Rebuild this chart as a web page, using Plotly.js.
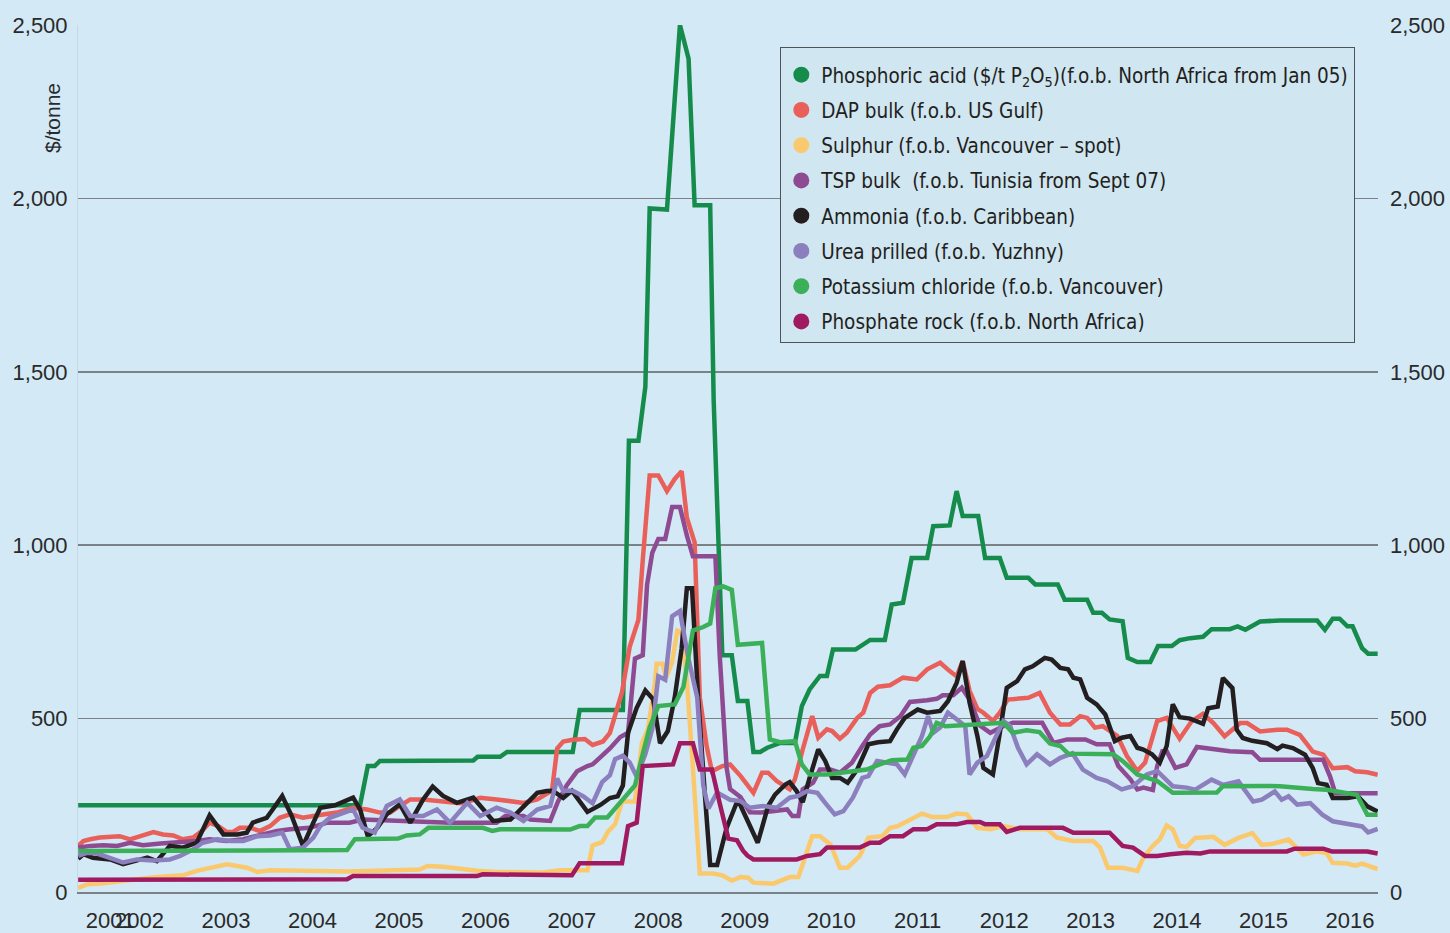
<!DOCTYPE html>
<html>
<head>
<meta charset="utf-8">
<script src="https://cdn.plot.ly/plotly-3.0.1.min.js"></script>
<style>
  html, body { margin: 0; padding: 0; background: #d3e9f6; }
  #chart { width: 1450px; height: 933px; }
</style>
</head>
<body>
<div id="chart"></div>
<script>
// ---------- DATA (x = decimal year, y = $/tonne) ----------
const seriesNames = [
  'Phosphoric acid ($/t P<sub>2</sub>O<sub>5</sub>)(f.o.b. North Africa from Jan 05)',
  'DAP bulk (f.o.b. US Gulf)',
  'Sulphur (f.o.b. Vancouver \u2013 spot)',
  'TSP bulk  (f.o.b. Tunisia from Sept 07)',
  'Ammonia (f.o.b. Caribbean)',
  'Urea prilled (f.o.b. Yuzhny)',
  'Potassium chloride (f.o.b. Vancouver)',
  'Phosphate rock (f.o.b. North Africa)'
];
const seriesColors = ['#168c4c', '#e9605b', '#fbc96d', '#8e4b91', '#231f20', '#8b7fbd', '#3bb058', '#a01a62'];

const phosphoricAcid = [[2001.79,250],[2005.05,250],[2005.14,363],[2005.22,363],[2005.28,378],[2006.36,379],[2006.41,390],[2006.67,390],[2006.75,404],[2007.51,404],[2007.59,525],[2008.09,525],[2008.16,1301],[2008.27,1301],[2008.35,1457],[2008.40,1971],[2008.60,1968],[2008.75,2500],[2008.85,2403],[2008.92,1980],[2009.10,1980],[2009.14,1420],[2009.24,683],[2009.35,683],[2009.42,551],[2009.53,551],[2009.60,404],[2009.68,404],[2009.76,416],[2009.91,430],[2010.08,430],[2010.16,536],[2010.25,584],[2010.37,623],[2010.45,623],[2010.52,699],[2010.78,699],[2010.95,727],[2011.12,727],[2011.20,829],[2011.33,834],[2011.43,963],[2011.61,963],[2011.68,1055],[2011.87,1057],[2011.95,1156],[2012.02,1084],[2012.20,1084],[2012.28,963],[2012.45,963],[2012.53,906],[2012.78,906],[2012.86,887],[2013.12,887],[2013.20,843],[2013.46,843],[2013.53,805],[2013.63,805],[2013.72,786],[2013.87,781],[2013.93,675],[2014.04,663],[2014.19,663],[2014.28,709],[2014.44,709],[2014.53,726],[2014.65,732],[2014.80,736],[2014.90,758],[2015.11,758],[2015.20,766],[2015.29,756],[2015.46,780],[2015.69,783],[2016.12,783],[2016.21,756],[2016.30,788],[2016.38,788],[2016.47,766],[2016.53,766],[2016.64,703],[2016.71,687],[2016.82,687]];

const dapBulk = [[2001.79,133],[2001.85,147],[2001.93,152],[2002.04,157],[2002.27,161],[2002.39,152],[2002.51,161],[2002.66,173],[2002.77,166],[2002.89,163],[2003.00,152],[2003.12,157],[2003.22,176],[2003.31,200],[2003.41,190],[2003.51,173],[2003.58,173],[2003.66,185],[2003.78,185],[2003.89,176],[2004.01,190],[2004.12,214],[2004.24,224],[2004.39,214],[2004.51,219],[2004.62,224],[2004.78,229],[2004.97,243],[2005.13,238],[2005.28,229],[2005.40,229],[2005.51,248],[2005.63,267],[2005.78,267],[2005.94,262],[2006.09,260],[2006.21,256],[2006.32,262],[2006.44,272],[2006.63,267],[2006.79,262],[2006.94,257],[2007.10,267],[2007.25,286],[2007.27,292],[2007.33,414],[2007.40,434],[2007.51,439],[2007.65,441],[2007.74,424],[2007.86,434],[2007.94,459],[2008.08,576],[2008.17,708],[2008.27,785],[2008.32,957],[2008.40,1201],[2008.50,1201],[2008.60,1156],[2008.69,1191],[2008.77,1213],[2008.83,1079],[2008.92,1008],[2008.98,561],[2009.06,419],[2009.12,348],[2009.24,363],[2009.33,368],[2009.45,335],[2009.60,286],[2009.70,344],[2009.77,344],[2009.87,320],[2010.02,296],[2010.08,325],[2010.17,411],[2010.28,507],[2010.35,445],[2010.45,469],[2010.51,464],[2010.60,442],[2010.68,459],[2010.80,502],[2010.87,517],[2010.95,574],[2011.04,592],[2011.18,596],[2011.33,618],[2011.49,613],[2011.61,642],[2011.76,661],[2011.87,637],[2011.95,622],[2012.02,666],[2012.10,580],[2012.19,528],[2012.26,517],[2012.37,493],[2012.45,517],[2012.54,555],[2012.78,560],[2012.91,574],[2013.03,517],[2013.15,483],[2013.26,483],[2013.38,507],[2013.46,502],[2013.55,474],[2013.64,478],[2013.81,450],[2013.92,392],[2014.04,349],[2014.13,373],[2014.27,493],[2014.38,502],[2014.53,442],[2014.67,493],[2014.80,514],[2014.92,487],[2015.05,449],[2015.23,487],[2015.31,487],[2015.46,463],[2015.66,468],[2015.77,468],[2015.92,453],[2016.00,429],[2016.07,405],[2016.19,396],[2016.30,357],[2016.47,360],[2016.56,348],[2016.70,345],[2016.82,338]];

const sulphur = [[2001.79,12],[2001.89,22],[2002.08,25],[2002.27,32],[2002.47,37],[2002.70,43],[2002.85,46],[2003.00,48],[2003.16,61],[2003.31,70],[2003.51,80],[2003.63,75],[2003.74,70],[2003.86,58],[2004.01,63],[2004.93,59],[2005.74,65],[2005.83,75],[2006.01,73],[2006.21,67],[2006.40,61],[2006.63,58],[2007.17,56],[2007.36,63],[2007.68,63],[2007.74,134],[2007.85,144],[2007.92,175],[2008.00,195],[2008.08,261],[2008.23,261],[2008.31,429],[2008.38,470],[2008.46,602],[2008.48,658],[2008.55,658],[2008.59,617],[2008.66,663],[2008.72,754],[2008.77,749],[2008.83,612],[2008.90,358],[2008.98,53],[2009.13,53],[2009.24,48],[2009.35,33],[2009.45,43],[2009.54,41],[2009.60,27],[2009.83,24],[2010.02,43],[2010.12,43],[2010.20,104],[2010.28,161],[2010.37,161],[2010.49,137],[2010.60,70],[2010.69,70],[2010.83,104],[2010.93,157],[2011.09,161],[2011.18,185],[2011.27,190],[2011.41,209],[2011.55,226],[2011.67,216],[2011.84,216],[2011.95,226],[2012.07,224],[2012.19,185],[2012.34,181],[2012.49,190],[2012.68,181],[2013.00,181],[2013.11,157],[2013.30,147],[2013.53,147],[2013.61,128],[2013.70,70],[2013.87,70],[2014.04,61],[2014.11,99],[2014.22,133],[2014.30,152],[2014.38,192],[2014.45,181],[2014.53,133],[2014.61,130],[2014.71,156],[2014.92,159],[2015.05,136],[2015.21,156],[2015.37,170],[2015.48,136],[2015.61,139],[2015.79,151],[2015.96,108],[2016.12,117],[2016.23,112],[2016.30,84],[2016.47,82],[2016.56,76],[2016.64,82],[2016.82,66]];

const tspBulk = [[2001.79,128],[2001.93,133],[2002.08,135],[2002.24,133],[2002.39,142],[2002.54,135],[2002.74,140],[2002.93,142],[2003.16,147],[2003.31,152],[2003.51,147],[2003.70,152],[2003.86,161],[2004.09,176],[2004.24,181],[2004.47,185],[2004.67,200],[2004.93,200],[2005.08,209],[2006.09,200],[2006.63,200],[2006.73,219],[2006.94,219],[2007.02,209],[2007.25,205],[2007.34,261],[2007.44,307],[2007.56,348],[2007.68,363],[2007.74,368],[2007.85,393],[2007.94,414],[2008.06,447],[2008.15,459],[2008.23,673],[2008.32,683],[2008.37,886],[2008.43,978],[2008.50,1018],[2008.58,1018],[2008.66,1110],[2008.75,1110],[2008.83,1028],[2008.90,968],[2009.16,968],[2009.21,683],[2009.29,358],[2009.33,297],[2009.45,274],[2009.56,230],[2009.68,229],[2009.83,233],[2009.99,238],[2010.05,219],[2010.12,219],[2010.17,296],[2010.29,315],[2010.37,353],[2010.49,353],[2010.60,344],[2010.74,373],[2010.86,421],[2010.95,454],[2011.06,478],[2011.18,483],[2011.30,507],[2011.41,548],[2011.61,553],[2011.72,557],[2011.79,567],[2011.91,567],[2012.01,589],[2012.10,555],[2012.22,480],[2012.34,459],[2012.49,478],[2012.60,488],[2012.94,488],[2013.07,430],[2013.23,440],[2013.44,440],[2013.57,426],[2013.72,426],[2013.82,363],[2013.96,325],[2014.04,296],[2014.11,301],[2014.22,294],[2014.27,363],[2014.33,406],[2014.38,406],[2014.48,358],[2014.61,368],[2014.73,418],[2014.92,412],[2015.11,406],[2015.37,403],[2015.46,381],[2016.19,381],[2016.27,333],[2016.33,285],[2016.82,285]];

const ammonia = [[2001.79,96],[2001.85,109],[2001.96,99],[2002.16,94],[2002.31,80],[2002.47,89],[2002.59,99],[2002.70,89],[2002.85,133],[2003.00,128],[2003.16,142],[2003.31,221],[2003.47,166],[2003.63,166],[2003.74,171],[2003.81,200],[2003.97,214],[2004.04,238],[2004.15,277],[2004.26,219],[2004.39,133],[2004.51,200],[2004.59,243],[2004.76,250],[2004.97,272],[2005.05,238],[2005.14,161],[2005.25,185],[2005.36,224],[2005.51,253],[2005.63,200],[2005.78,267],[2005.89,304],[2006.01,277],[2006.17,257],[2006.36,272],[2006.47,238],[2006.59,205],[2006.79,209],[2006.94,248],[2007.10,286],[2007.21,291],[2007.28,292],[2007.40,271],[2007.50,292],[2007.68,231],[2007.83,251],[2007.94,271],[2008.03,276],[2008.09,307],[2008.15,459],[2008.25,531],[2008.35,581],[2008.44,556],[2008.52,429],[2008.61,464],[2008.69,561],[2008.77,703],[2008.83,876],[2008.89,876],[2008.96,561],[2009.04,276],[2009.10,78],[2009.18,78],[2009.29,185],[2009.42,266],[2009.54,200],[2009.65,142],[2009.77,248],[2009.85,281],[2009.97,310],[2010.02,317],[2010.10,291],[2010.17,259],[2010.25,329],[2010.35,411],[2010.43,378],[2010.51,329],[2010.60,329],[2010.69,315],[2010.80,353],[2010.93,426],[2011.04,432],[2011.18,435],[2011.26,469],[2011.35,502],[2011.50,526],[2011.61,517],[2011.76,522],[2011.85,550],[2011.95,603],[2012.02,666],[2012.10,546],[2012.19,450],[2012.26,358],[2012.37,339],[2012.45,459],[2012.53,589],[2012.65,608],[2012.74,642],[2012.83,651],[2012.97,675],[2013.05,670],[2013.15,646],[2013.24,642],[2013.30,618],[2013.38,613],[2013.46,560],[2013.57,541],[2013.67,512],[2013.78,435],[2013.86,445],[2013.96,450],[2014.04,416],[2014.11,411],[2014.21,397],[2014.30,373],[2014.38,421],[2014.45,541],[2014.53,504],[2014.65,500],[2014.80,485],[2014.86,530],[2014.97,535],[2015.03,617],[2015.14,588],[2015.19,468],[2015.26,444],[2015.37,436],[2015.54,429],[2015.66,412],[2015.72,422],[2015.84,415],[2015.98,396],[2016.07,357],[2016.13,314],[2016.23,309],[2016.30,271],[2016.47,271],[2016.59,276],[2016.70,247],[2016.82,232]];

const ureaPrilled = [[2001.79,104],[2001.89,113],[2002.01,111],[2002.16,99],[2002.31,85],[2002.47,94],[2002.66,91],[2002.85,94],[2002.97,104],[2003.12,123],[2003.23,142],[2003.40,152],[2003.55,147],[2003.70,147],[2003.86,161],[2004.01,163],[2004.15,171],[2004.24,123],[2004.39,128],[2004.51,157],[2004.59,190],[2004.70,214],[2004.85,229],[2004.97,238],[2005.08,185],[2005.22,171],[2005.36,248],[2005.51,267],[2005.63,219],[2005.78,219],[2005.94,238],[2006.09,200],[2006.29,257],[2006.44,219],[2006.63,243],[2006.79,229],[2006.94,205],[2007.10,238],[2007.25,248],[2007.33,327],[2007.40,292],[2007.51,292],[2007.63,276],[2007.74,256],[2007.85,317],[2007.94,337],[2008.00,383],[2008.09,393],[2008.17,373],[2008.25,332],[2008.35,398],[2008.43,470],[2008.50,622],[2008.58,612],[2008.66,795],[2008.75,810],[2008.84,683],[2008.95,561],[2009.02,307],[2009.08,241],[2009.18,287],[2009.33,266],[2009.45,262],[2009.56,243],[2009.71,248],[2009.87,243],[2010.02,272],[2010.12,277],[2010.22,291],[2010.34,286],[2010.43,257],[2010.54,224],[2010.64,233],[2010.75,272],[2010.86,329],[2010.93,334],[2011.03,378],[2011.16,373],[2011.26,368],[2011.35,339],[2011.45,392],[2011.55,450],[2011.62,507],[2011.68,459],[2011.76,474],[2011.85,517],[2011.95,498],[2012.05,478],[2012.10,339],[2012.19,373],[2012.30,392],[2012.39,440],[2012.49,493],[2012.57,478],[2012.66,416],[2012.76,368],[2012.88,397],[2013.03,368],[2013.15,387],[2013.29,400],[2013.41,353],[2013.57,329],[2013.69,320],[2013.86,296],[2013.99,305],[2014.15,339],[2014.27,349],[2014.45,305],[2014.61,301],[2014.71,295],[2014.90,324],[2015.03,309],[2015.21,319],[2015.38,261],[2015.48,266],[2015.63,290],[2015.71,266],[2015.79,276],[2015.89,252],[2016.04,256],[2016.18,223],[2016.30,204],[2016.42,199],[2016.53,196],[2016.64,189],[2016.71,172],[2016.82,182]];

const potassiumChloride = [[2001.79,118],[2003.93,118],[2004.90,121],[2004.99,152],[2005.25,154],[2005.49,154],[2005.59,163],[2005.74,166],[2005.84,185],[2006.47,185],[2006.58,176],[2006.67,181],[2007.48,180],[2007.59,190],[2007.68,190],[2007.77,215],[2007.91,215],[2008.00,241],[2008.12,271],[2008.23,307],[2008.32,398],[2008.40,475],[2008.50,536],[2008.60,539],[2008.69,541],[2008.79,591],[2008.90,754],[2009.02,764],[2009.10,774],[2009.16,876],[2009.25,881],[2009.35,871],[2009.42,713],[2009.70,718],[2009.79,440],[2009.91,432],[2010.08,435],[2010.16,368],[2010.25,339],[2010.45,339],[2010.60,344],[2010.80,349],[2010.91,353],[2011.06,368],[2011.20,380],[2011.38,382],[2011.45,416],[2011.55,421],[2011.64,448],[2011.72,488],[2011.82,478],[2012.49,488],[2012.60,459],[2012.76,466],[2012.91,461],[2013.03,428],[2013.15,421],[2013.24,399],[2013.76,397],[2013.87,378],[2014.04,339],[2014.27,320],[2014.45,286],[2014.96,287],[2015.03,305],[2015.49,306],[2015.69,305],[2016.07,297],[2016.23,295],[2016.58,280],[2016.70,223],[2016.82,223]];

const phosphateRock = [[2001.79,35],[2004.90,37],[2004.97,46],[2006.40,46],[2006.47,51],[2007.50,48],[2007.59,83],[2008.08,83],[2008.15,190],[2008.25,200],[2008.32,363],[2008.67,368],[2008.75,429],[2008.90,429],[2008.98,353],[2009.12,353],[2009.21,256],[2009.31,154],[2009.41,149],[2009.48,119],[2009.53,105],[2009.60,94],[2010.10,94],[2010.22,104],[2010.37,109],[2010.45,128],[2010.83,128],[2010.95,142],[2011.06,142],[2011.18,161],[2011.33,161],[2011.45,181],[2011.61,181],[2011.72,195],[2011.95,195],[2012.07,202],[2012.22,202],[2012.28,195],[2012.45,195],[2012.53,173],[2012.68,185],[2013.18,185],[2013.30,171],[2013.72,171],[2013.87,133],[2013.99,128],[2014.13,104],[2014.27,104],[2014.42,109],[2014.61,113],[2014.77,111],[2014.88,117],[2015.77,117],[2015.86,125],[2016.19,125],[2016.29,117],[2016.70,117],[2016.82,111]];

const yearLabels = ['2001','2002','2003','2004','2005','2006','2007','2008','2009','2010','2011','2012','2013','2014','2015','2016'];
const yTickVals = [0, 500, 1000, 1500, 2000, 2500];

// ---------- BUILD ----------
const allSeries = [phosphoricAcid, dapBulk, sulphur, tspBulk, ammonia, ureaPrilled, potassiumChloride, phosphateRock];

const traces = [];
allSeries.forEach((s, i) => {
  traces.push({
    type: 'scatter', mode: 'lines',
    x: s.map(p => p[0]), y: s.map(p => p[1]),
    line: { color: seriesColors[i], width: 4.5, shape: 'linear' },
    showlegend: false, hoverinfo: 'skip'
  });
});
// legend entries (circle swatches)
seriesNames.forEach((n, i) => {
  traces.push({
    type: 'scatter', mode: 'markers', x: [null], y: [null],
    name: n, legendgroup: 'g' + i,
    marker: { color: seriesColors[i], size: 17, symbol: 'circle' },
    showlegend: true, hoverinfo: 'skip'
  });
});
// right-side axis carrier
traces.push({ type: 'scatter', mode: 'lines', x: [null], y: [null], yaxis: 'y2', showlegend: false, hoverinfo: 'skip' });

// label for 2001 is crowded next to 2002 as in the original
const xTickVals = yearLabels.map((y, i) => i === 0 ? 2002.16 : Number(y) + 0.5);

const tickFont = { family: 'Liberation Sans, Arial, sans-serif', size: 22, color: '#2a2a2a' };
const bg = '#d3e9f6';

const layout = {
  width: 1450, height: 933,
  margin: { l: 78, r: 72, t: 25, b: 41, pad: 0 },
  paper_bgcolor: bg, plot_bgcolor: bg,
  showlegend: true,
  xaxis: {
    range: [2001.788, 2016.824], showgrid: false, zeroline: false,
    tickmode: 'array', tickvals: xTickVals, ticktext: yearLabels, tickangle: 0,
    ticks: '', tickfont: tickFont, ticklabelstandoff: 8,
    showline: true, linecolor: '#7b8287', linewidth: 2
  },
  yaxis: {
    range: [0, 2500], tickmode: 'array', tickvals: yTickVals, tickformat: ',d',
    showgrid: true, gridcolor: '#7b8287', gridwidth: 1.6, zeroline: false,
    ticks: '', tickfont: tickFont, ticklabelstandoff: 5,
    showline: true, linecolor: '#c4dae8', linewidth: 1
  },
  yaxis2: {
    overlaying: 'y', side: 'right', anchor: 'x',
    range: [0, 2500], tickmode: 'array', tickvals: yTickVals, tickformat: ',d',
    showgrid: false, zeroline: false, showline: false,
    ticks: '', tickfont: tickFont, ticklabelstandoff: 11
  },
  legend: {
    x: 0.54, y: 0.9746, xanchor: 'left', yanchor: 'top',
    bgcolor: '#d0e6f1', bordercolor: '#4e5357', borderwidth: 1.3,
    font: { family: 'DejaVu Sans Condensed, Liberation Sans Narrow, sans-serif', size: 20.5, color: '#231f20' },
    title: { text: ' ', font: { size: 5 } },
    tracegroupgap: 5.6, itemclick: false, itemdoubleclick: false
  },
  annotations: [{
    text: '$/tonne', xref: 'paper', yref: 'paper', x: -0.02, y: 0.8927,
    xanchor: 'center', yanchor: 'middle', textangle: -90, showarrow: false,
    font: { family: 'Liberation Sans, Arial, sans-serif', size: 21, color: '#2a2a2a' }
  }]
};

Plotly.newPlot('chart', traces, layout, { staticPlot: true, displayModeBar: false });
</script>
</body>
</html>
